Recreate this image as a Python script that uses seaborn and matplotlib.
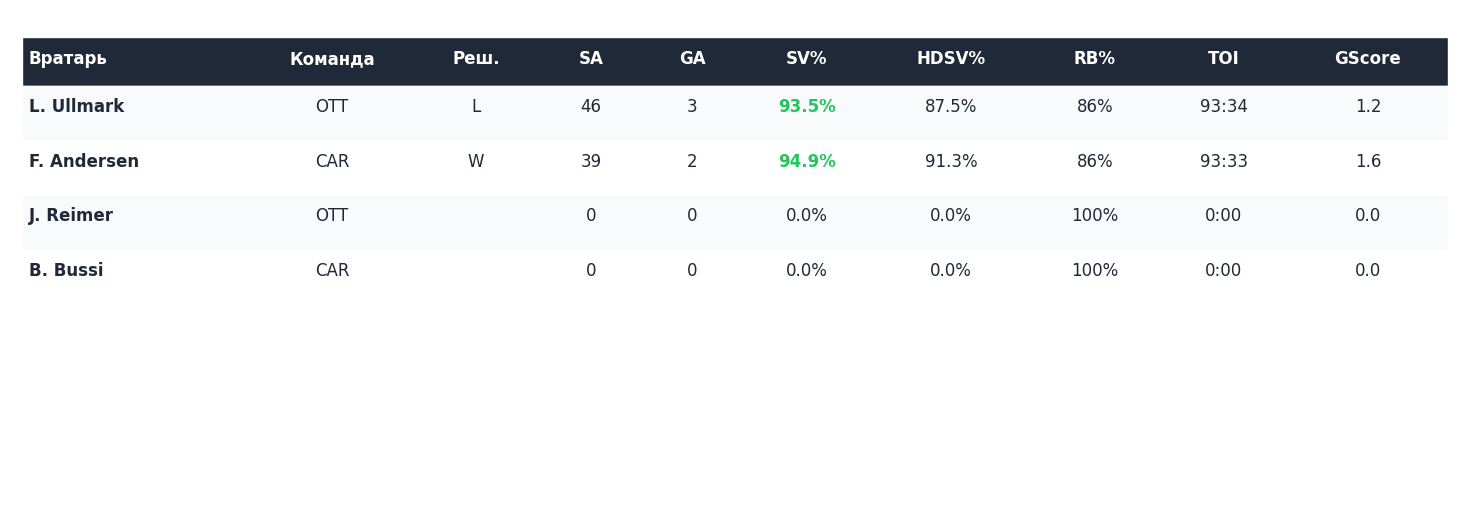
import matplotlib
matplotlib.use("Agg")
import matplotlib.pyplot as plt
import seaborn as sns

columns = ["Вратарь", "Команда", "Реш.", "SA", "GA", "SV%", "HDSV%", "RB%", "TOI", "GScore"]
goalies = ["L. Ullmark", "F. Andersen", "J. Reimer", "B. Bussi"]
teams = ["OTT", "CAR", "OTT", "CAR"]
decisions = ["L", "W", "", ""]
sa = [46, 39, 0, 0]
ga = [3, 2, 0, 0]
sv_pct = ["93.5%", "94.9%", "0.0%", "0.0%"]
hdsv_pct = ["87.5%", "91.3%", "0.0%", "0.0%"]
rb_pct = ["86%", "86%", "100%", "100%"]
toi = ["93:34", "93:33", "0:00", "0:00"]
gscore = ["1.2", "1.6", "0.0", "0.0"]
sv_highlight = [True, True, False, False]

col_x = [29, 332, 476, 591, 692, 807, 951, 1095, 1224, 1368]
HEADER_BG = "#1f2937"
TEXT = "#1f2937"
GREEN = "#22c55e"
STRIPE = "#f8fafc"


def main():
    sns.set_style("white")
    plt.rcParams["font.family"] = ["DejaVu Sans"]
    fig = plt.figure(figsize=(14.7, 5.26), dpi=100)
    ax = fig.add_axes([0, 0, 1, 1])
    ax.set_xlim(0, 1470)
    ax.set_ylim(526, 0)
    ax.axis("off")

    # header
    ax.barh(61, 1426, height=49, left=22, color=HEADER_BG)
    for i, c in enumerate(columns):
        ax.text(col_x[i], 59, c, color="white", fontsize=12, fontweight="bold",
                ha="left" if i == 0 else "center", va="center")

    # rows
    row_h = 54.7
    for r in range(len(goalies)):
        yc = 113 + r * row_h
        if r % 2 == 0:
            ax.barh(yc, 1426, height=row_h, left=22, color=STRIPE)
        ty = 107 + r * row_h
        vals = [goalies[r], teams[r], decisions[r], str(sa[r]), str(ga[r]), sv_pct[r],
                hdsv_pct[r], rb_pct[r], toi[r], gscore[r]]
        for i, v in enumerate(vals):
            color = TEXT
            weight = "normal"
            if i == 0:
                weight = "bold"
            if i == 5 and sv_highlight[r]:
                color = GREEN
                weight = "bold"
            ax.text(col_x[i], ty, v, color=color, fontsize=12, fontweight=weight,
                    ha="left" if i == 0 else "center", va="center")

    fig.savefig("out.png", dpi=100)


if __name__ == "__main__":
    main()
